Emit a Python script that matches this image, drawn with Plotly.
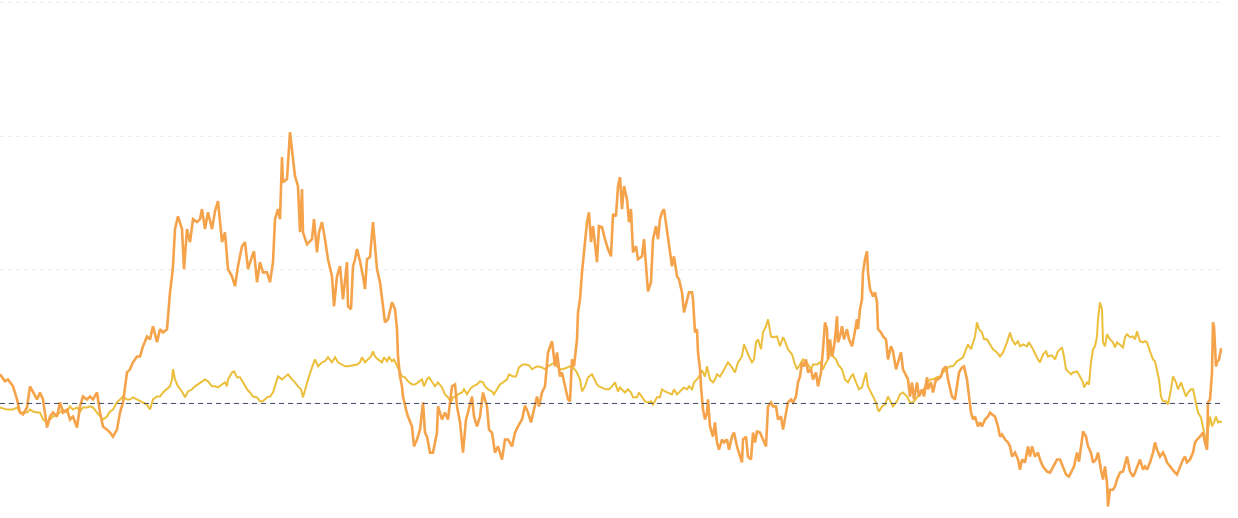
import plotly.graph_objects as go

# ---- data ----
orange_day = [0, 2, 5, 8, 10, 13, 17, 20, 23, 27, 30, 33, 37, 40, 43, 47, 50, 53, 57, 60,
              63, 67, 70, 73, 77, 80, 83, 87, 90, 93, 97, 100, 103, 107, 110, 113, 117, 120, 123, 127,
              130, 133, 137, 140, 143, 147, 150, 153, 157, 160, 163, 167, 168, 170, 172, 173, 175, 177, 178, 182,
              184, 187, 190, 193, 197, 200, 202, 205, 208, 212, 215, 218, 222, 225, 228, 232, 235, 238, 242, 245,
              248, 252, 254, 257, 260, 263, 267, 270, 273, 275, 278, 280, 282, 283, 287, 290, 292, 295, 298, 300,
              302, 303, 307, 312, 314, 317, 319, 322, 325, 328, 332, 334, 337, 340, 343, 347, 348, 351, 353, 355,
              357, 360, 363, 365, 367, 370, 373, 375, 377, 380, 383, 385, 388, 392, 395, 397, 398, 400, 402, 403,
              406, 408, 412, 414, 417, 420, 423, 425, 427, 430, 433, 437, 438, 442, 445, 448, 452, 455, 457, 460,
              463, 466, 468, 472, 474, 477, 480, 483, 487, 489, 492, 495, 498, 502, 505, 508, 512, 515, 518, 522,
              525, 528, 531, 533, 537, 539, 542, 545, 548, 552, 555, 557, 560, 562, 565, 568, 570, 572, 574, 577,
              578, 580, 582, 585, 587, 589, 591, 593, 595, 597, 599, 602, 605, 608, 611, 613, 616, 618, 620, 622,
              624, 627, 629, 631, 633, 636, 638, 642, 644, 646, 648, 651, 653, 656, 658, 660, 662, 664, 667, 669,
              672, 674, 677, 679, 682, 684, 687, 689, 692, 693, 695, 697, 698, 700, 701, 703, 705, 707, 708, 710,
              713, 715, 717, 719, 722, 724, 727, 729, 732, 734, 737, 739, 742, 743, 746, 748, 751, 753, 755, 757,
              760, 763, 766, 768, 771, 773, 776, 778, 781, 783, 786, 788, 791, 793, 796, 798, 800, 802, 804, 806,
              808, 811, 813, 816, 818, 821, 823, 825, 827, 828, 830, 832, 833, 835, 837, 838, 840, 842, 844, 847,
              849, 852, 854, 857, 858, 860, 862, 863, 865, 867, 868, 870, 873, 875, 877, 878, 881, 883, 886, 888,
              891, 893, 896, 898, 901, 903, 906, 908, 910, 912, 914, 917, 919, 922, 924, 927, 928, 931, 933, 936,
              938, 941, 943, 946, 948, 950, 952, 955, 957, 959, 962, 964, 967, 969, 971, 973, 975, 978, 980, 982,
              985, 988, 990, 992, 995, 998, 1000, 1002, 1005, 1008, 1010, 1012, 1015, 1018, 1020, 1022, 1025, 1028, 1030, 1032,
              1035, 1038, 1040, 1043, 1047, 1050, 1053, 1057, 1060, 1063, 1066, 1069, 1072, 1074, 1077, 1079, 1082, 1083, 1086, 1088,
              1091, 1093, 1096, 1098, 1101, 1103, 1105, 1107, 1108, 1110, 1113, 1115, 1117, 1120, 1123, 1125, 1127, 1130, 1133, 1135,
              1137, 1140, 1143, 1145, 1147, 1150, 1153, 1155, 1157, 1160, 1163, 1165, 1167, 1170, 1173, 1175, 1177, 1180, 1183, 1185,
              1187, 1190, 1193, 1195, 1197, 1200, 1203, 1205, 1207, 1208, 1210, 1212, 1213, 1214, 1216, 1217, 1219, 1221, 1222]
orange_val = [10.9, 9.8, 8.3, 9.0, 7.9, 6.4, 1.5, -3.4, -4.1, -1.5, 6.4, 4.5, 1.5, 4.1, 1.5, -9.0, -4.9, -3.4, -4.9, 0.4,
              -3.4, -2.3, -6.0, -4.9, -9.0, -1.1, 2.6, 1.5, 2.6, 1.5, 4.1, -3.4, -8.6, -9.8, -10.9, -12.4, -9.8, -3.4, 0.4, 11.6,
              12.8, 15.4, 17.6, 17.6, 21.4, 25.1, 24.0, 28.9, 22.9, 27.8, 26.6, 27.8, 32.6, 41.6, 47.6, 51.4, 65.3, 69.0, 70.1, 65.3,
              50.3, 65.3, 60.4, 69.0, 67.9, 69.0, 72.8, 65.3, 71.6, 65.3, 72.0, 75.8, 60.4, 64.1, 50.3, 47.6, 43.9, 51.4, 58.9, 60.4,
              50.3, 55.1, 57.0, 45.4, 52.9, 49.1, 49.1, 45.4, 52.9, 69.0, 72.8, 69.0, 92.3, 82.9, 84.0, 101.6, 95.3, 85.1, 81.4, 64.1,
              80.3, 64.1, 59.6, 61.5, 69.0, 56.6, 64.1, 67.9, 61.5, 54.0, 47.6, 36.4, 47.6, 51.4, 39.0, 52.9, 36.4, 35.3, 51.4, 54.0,
              57.8, 53.3, 47.6, 42.8, 54.0, 54.8, 67.9, 57.8, 50.3, 45.4, 36.4, 30.4, 31.5, 37.9, 35.3, 27.8, 17.6, 10.1, 6.4, 2.6,
              -2.3, -4.9, -8.6, -16.1, -13.5, -9.8, 0.4, -10.9, -12.4, -18.4, -18.4, -10.9, -1.1, -6.0, -3.4, -6.0, 6.4, 7.1, -1.1, -7.1,
              -18.4, -6.0, -3.4, 2.6, -4.9, -8.6, -4.9, 4.1, -1.1, -9.8, -10.9, -18.4, -16.1, -21.0, -13.5, -13.5, -16.1, -10.9, -8.6, -6.0,
              -0.8, -3.4, -7.1, -3.4, 2.6, -1.1, 4.1, 6.4, 19.1, 23.3, 13.9, 19.1, 10.1, 11.6, 6.4, 1.5, 0.8, 16.5, 13.9, 24.0,
              34.1, 39.0, 49.1, 58.9, 67.9, 71.6, 60.4, 66.4, 58.9, 52.9, 66.4, 66.0, 61.5, 57.8, 55.1, 70.9, 70.1, 81.4, 84.8, 72.8,
              81.4, 76.5, 67.9, 72.8, 56.6, 58.9, 54.0, 55.1, 61.5, 50.3, 42.0, 45.4, 61.5, 66.4, 61.5, 69.0, 71.6, 72.8, 65.3, 60.4,
              51.4, 55.1, 47.6, 46.5, 41.6, 34.1, 39.0, 41.6, 41.6, 39.0, 26.6, 27.8, 19.1, 12.8, 6.4, -2.3, -6.0, -3.4, 1.5, -8.6,
              -12.4, -7.1, -14.6, -17.3, -13.5, -14.6, -13.5, -17.3, -12.4, -10.9, -16.1, -18.4, -22.1, -13.5, -12.4, -19.9, -21.0, -10.9, -14.6, -10.5,
              -10.9, -13.5, -16.1, -1.1, 0.4, -1.1, -1.1, -6.0, -4.9, -9.8, -3.4, 0.4, 1.5, 0.4, 2.6, 7.9, 10.1, 15.4, 13.9, 16.5,
              11.6, 12.8, 9.0, 11.6, 6.4, 11.6, 20.3, 30.4, 27.8, 16.5, 24.0, 17.6, 19.1, 24.0, 32.6, 22.9, 25.1, 28.9, 24.0, 27.8,
              24.0, 21.4, 25.1, 31.5, 27.8, 35.3, 39.0, 49.1, 54.0, 57.0, 49.1, 42.8, 40.1, 41.6, 37.9, 27.8, 26.6, 25.1, 24.0, 16.5,
              21.4, 19.5, 12.8, 15.4, 19.1, 12.8, 10.1, 9.0, 2.6, 7.9, 1.5, 7.9, 2.6, 5.3, 2.6, 9.8, 5.3, 7.9, 4.1, 9.0,
              9.0, 10.1, 12.8, 13.9, 9.0, 5.3, 2.6, 1.5, 6.4, 11.6, 13.5, 13.9, 9.0, 1.5, -3.4, -6.0, -4.9, -8.6, -7.1, -8.6,
              -6.0, -4.9, -3.4, -4.1, -4.9, -8.6, -12.4, -11.6, -13.5, -14.6, -16.1, -19.9, -18.4, -21.0, -24.8, -21.0, -22.1, -16.1, -19.9, -16.1,
              -19.9, -18.4, -21.0, -23.6, -25.5, -25.9, -23.6, -21.0, -21.0, -23.6, -26.6, -27.4, -24.8, -23.6, -18.4, -21.8, -13.5, -10.5, -12.4, -16.1,
              -18.4, -22.1, -21.0, -18.4, -24.8, -28.5, -23.6, -29.6, -38.6, -32.3, -32.3, -31.1, -28.5, -25.9, -25.5, -22.1, -19.9, -25.5, -27.4, -25.9,
              -23.6, -21.0, -24.8, -23.6, -24.8, -22.1, -18.4, -14.6, -17.3, -19.9, -18.4, -19.9, -22.1, -23.6, -24.8, -25.9, -26.6, -23.6, -21.0, -19.9,
              -22.1, -21.0, -18.4, -14.6, -13.5, -12.4, -10.9, -14.6, -17.3, 0.4, 1.5, 11.6, 30.4, 28.9, 13.9, 15.4, 16.5, 20.3, 20.3]

yellow_day = [0, 7, 13, 17, 20, 23, 27, 30, 33, 37, 40, 43, 47, 50, 53, 57, 60, 63, 67, 70,
              73, 77, 80, 83, 87, 90, 93, 97, 100, 103, 107, 110, 113, 117, 120, 123, 127, 130, 133, 137,
              140, 143, 147, 150, 153, 157, 160, 163, 167, 170, 172, 173, 175, 178, 182, 185, 188, 192, 195, 198,
              202, 205, 208, 212, 215, 218, 222, 225, 227, 228, 232, 234, 237, 240, 243, 247, 250, 253, 257, 260,
              263, 267, 270, 273, 277, 278, 282, 285, 288, 292, 295, 298, 301, 303, 306, 308, 312, 315, 318, 322,
              325, 328, 332, 335, 338, 342, 345, 348, 352, 355, 357, 360, 362, 365, 368, 371, 373, 375, 378, 382,
              384, 387, 389, 392, 394, 397, 399, 402, 405, 408, 412, 415, 418, 422, 424, 427, 429, 432, 435, 438,
              442, 445, 448, 451, 453, 456, 458, 462, 464, 467, 470, 473, 477, 480, 483, 485, 488, 492, 494, 497,
              500, 503, 507, 509, 513, 516, 519, 523, 526, 529, 532, 535, 538, 542, 545, 548, 552, 555, 557, 560,
              563, 567, 570, 573, 577, 580, 582, 585, 588, 592, 595, 597, 599, 602, 606, 609, 612, 615, 618, 620,
              622, 625, 628, 631, 633, 637, 639, 642, 645, 648, 651, 653, 657, 660, 662, 665, 668, 672, 674, 677,
              679, 682, 684, 687, 689, 692, 694, 697, 699, 702, 705, 707, 710, 713, 715, 717, 720, 723, 725, 728,
              732, 735, 738, 742, 744, 747, 749, 752, 754, 756, 758, 761, 763, 766, 768, 771, 773, 777, 780, 783,
              785, 788, 792, 795, 797, 800, 803, 806, 808, 811, 813, 817, 820, 823, 825, 828, 831, 833, 836, 838,
              842, 845, 848, 851, 853, 856, 859, 862, 864, 866, 868, 871, 873, 876, 878, 879, 882, 885, 888, 891,
              893, 897, 900, 903, 907, 910, 913, 917, 920, 923, 927, 930, 933, 937, 940, 943, 947, 950, 953, 957,
              960, 963, 966, 968, 971, 973, 975, 977, 979, 982, 984, 987, 990, 993, 997, 1000, 1003, 1007, 1010, 1012,
              1015, 1018, 1020, 1023, 1027, 1029, 1032, 1035, 1038, 1040, 1043, 1046, 1048, 1052, 1055, 1058, 1062, 1064, 1066, 1068,
              1071, 1073, 1077, 1080, 1083, 1084, 1087, 1089, 1091, 1093, 1095, 1097, 1098, 1100, 1102, 1103, 1105, 1107, 1110, 1113,
              1115, 1117, 1120, 1123, 1125, 1127, 1130, 1133, 1135, 1137, 1140, 1143, 1145, 1147, 1150, 1153, 1155, 1157, 1159, 1161,
              1163, 1166, 1168, 1171, 1173, 1176, 1178, 1181, 1183, 1186, 1188, 1191, 1193, 1196, 1198, 1201, 1203, 1205, 1207, 1208,
              1210, 1212, 1214, 1216, 1218, 1220, 1222]
yellow_val = [-1.5, -2.3, -2.3, -1.5, -3.4, -3.4, -3.4, -2.3, -3.0, -3.4, -3.4, -6.0, -7.1, -6.0, -4.9, -4.1, -3.4, -2.3, -3.4, -1.1,
              -2.3, -1.5, -3.0, -1.5, -1.5, -1.1, -1.5, -3.4, -4.9, -6.0, -4.9, -3.0, -2.3, 0.4, 1.5, 2.6, 1.5, 1.5, 2.3, 1.5,
              0.8, 0.4, -0.4, -2.3, 1.5, 2.6, 2.6, 4.1, 5.3, 6.4, 9.0, 12.8, 9.0, 6.4, 4.5, 2.3, 4.5, 5.3, 6.4, 7.1,
              8.3, 9.0, 8.3, 6.4, 6.4, 6.0, 7.1, 7.9, 6.4, 9.0, 11.6, 12.0, 9.8, 9.8, 7.9, 5.3, 4.1, 2.6, 2.3, 0.8,
              0.8, 2.3, 2.6, 4.1, 9.0, 10.1, 9.0, 10.1, 10.9, 9.0, 7.9, 6.4, 5.3, 2.3, 6.4, 9.0, 13.5, 16.5, 13.9, 15.4,
              15.8, 17.3, 15.4, 17.3, 15.4, 14.6, 13.9, 13.9, 14.3, 14.6, 14.6, 15.4, 17.3, 15.4, 16.5, 17.6, 19.5, 17.6, 16.5, 15.4,
              17.3, 15.8, 17.3, 15.8, 16.5, 13.9, 12.8, 10.1, 9.8, 8.3, 7.1, 7.1, 7.9, 9.0, 6.4, 9.0, 9.8, 8.3, 6.4, 7.9,
              6.0, 3.4, 2.3, 0.4, 2.3, 2.6, 3.4, 4.1, 5.3, 3.4, 5.3, 6.4, 7.1, 8.3, 7.9, 6.4, 5.3, 4.5, 3.4, 5.3,
              7.1, 7.9, 9.0, 10.9, 10.1, 10.1, 13.5, 14.6, 14.6, 14.3, 12.8, 13.5, 13.9, 13.5, 12.8, 13.9, 14.6, 15.4, 13.9, 12.8,
              12.8, 13.5, 13.9, 13.5, 11.6, 9.0, 4.5, 6.4, 9.8, 10.9, 8.3, 7.1, 6.4, 6.0, 5.3, 5.3, 6.4, 7.9, 4.5, 6.0,
              5.3, 4.1, 5.3, 4.1, 2.3, 2.3, 4.1, 2.3, 0.8, 0.4, 0.8, -0.4, 2.3, 2.3, 5.3, 4.5, 4.1, 3.4, 5.3, 3.4,
              4.1, 5.3, 6.0, 5.3, 6.4, 5.3, 7.9, 9.0, 10.1, 12.4, 10.1, 13.9, 9.0, 7.9, 9.0, 10.9, 10.1, 12.0, 13.5, 15.4,
              13.5, 11.6, 15.4, 17.6, 22.1, 19.1, 17.6, 15.4, 16.5, 22.9, 24.0, 20.3, 26.6, 28.9, 31.5, 25.1, 24.8, 25.1, 21.4, 24.8,
              23.3, 20.3, 18.4, 14.6, 12.8, 14.6, 16.5, 15.4, 14.6, 12.8, 14.6, 14.6, 15.4, 12.8, 14.6, 16.5, 19.1, 17.6, 16.5, 14.6,
              12.8, 9.0, 7.9, 10.1, 10.9, 7.9, 5.3, 6.0, 9.0, 11.6, 6.4, 4.1, 2.6, 0.4, -2.3, -3.0, -1.1, -0.4, 2.6, 0.4,
              -1.1, 0.8, 3.4, 4.1, 2.6, 0.4, 0.4, 2.3, 4.1, 4.5, 7.9, 9.0, 9.0, 9.8, 10.1, 11.6, 12.8, 13.9, 13.9, 15.8,
              16.5, 17.3, 20.3, 22.1, 20.3, 22.9, 25.1, 30.4, 27.8, 26.6, 24.0, 24.0, 22.1, 20.3, 19.1, 17.6, 19.1, 22.9, 26.6, 24.0,
              22.1, 23.3, 21.4, 22.1, 21.4, 22.9, 21.0, 18.4, 16.5, 15.4, 18.4, 19.5, 17.6, 18.0, 16.5, 19.5, 21.0, 17.6, 12.8, 12.0,
              10.9, 11.6, 12.0, 10.1, 7.9, 6.0, 7.9, 7.1, 15.4, 20.3, 21.4, 25.1, 31.5, 37.9, 35.3, 22.9, 21.4, 25.9, 24.0, 22.9,
              21.0, 22.9, 22.1, 21.0, 24.8, 25.9, 24.8, 25.1, 24.0, 27.0, 23.3, 22.9, 23.3, 22.9, 19.5, 16.5, 15.8, 12.8, 9.0, 2.6,
              0.8, 0.8, -0.4, 5.3, 10.1, 7.9, 5.3, 7.9, 6.0, 2.6, 4.1, 5.3, 5.3, 0.4, -3.4, -5.3, -8.6, -12.4, -17.3, -9.8,
              -4.9, -8.6, -7.1, -4.9, -7.1, -6.8, -7.1]

grid_values = [0, 50, 100, 150]

ORANGE = "#f5a34b"
YELLOW = "#ebbf3b"

fig = go.Figure()
fig.add_trace(go.Scatter(x=yellow_day, y=yellow_val, mode="lines", name="Series B",
                         line=dict(color=YELLOW, width=2), hoverinfo="skip"))
fig.add_trace(go.Scatter(x=orange_day, y=orange_val, mode="lines", name="Series A",
                         line=dict(color=ORANGE, width=2.6), hoverinfo="skip"))

fig.add_hline(y=0, line=dict(color="#3e4b63", width=1, dash="5px,4px"), layer="above")

fig.update_layout(
    width=1238, height=518,
    margin=dict(l=0, r=16, t=0, b=0),
    paper_bgcolor="white", plot_bgcolor="white",
    showlegend=False,
    xaxis=dict(range=[0, 1222], showgrid=False, zeroline=False, showticklabels=False,
               showline=False, ticks=""),
    yaxis=dict(range=[-42.9, 151.1], tickvals=grid_values, showticklabels=False,
               showgrid=True, gridcolor="#e9ecf3", gridwidth=1, griddash="4px,4px",
               zeroline=False, showline=False, ticks=""),
)

fig.write_html("out.html", config={"displayModeBar": False},
               post_script="document.body.style.margin='0';document.body.style.overflow='hidden';")
